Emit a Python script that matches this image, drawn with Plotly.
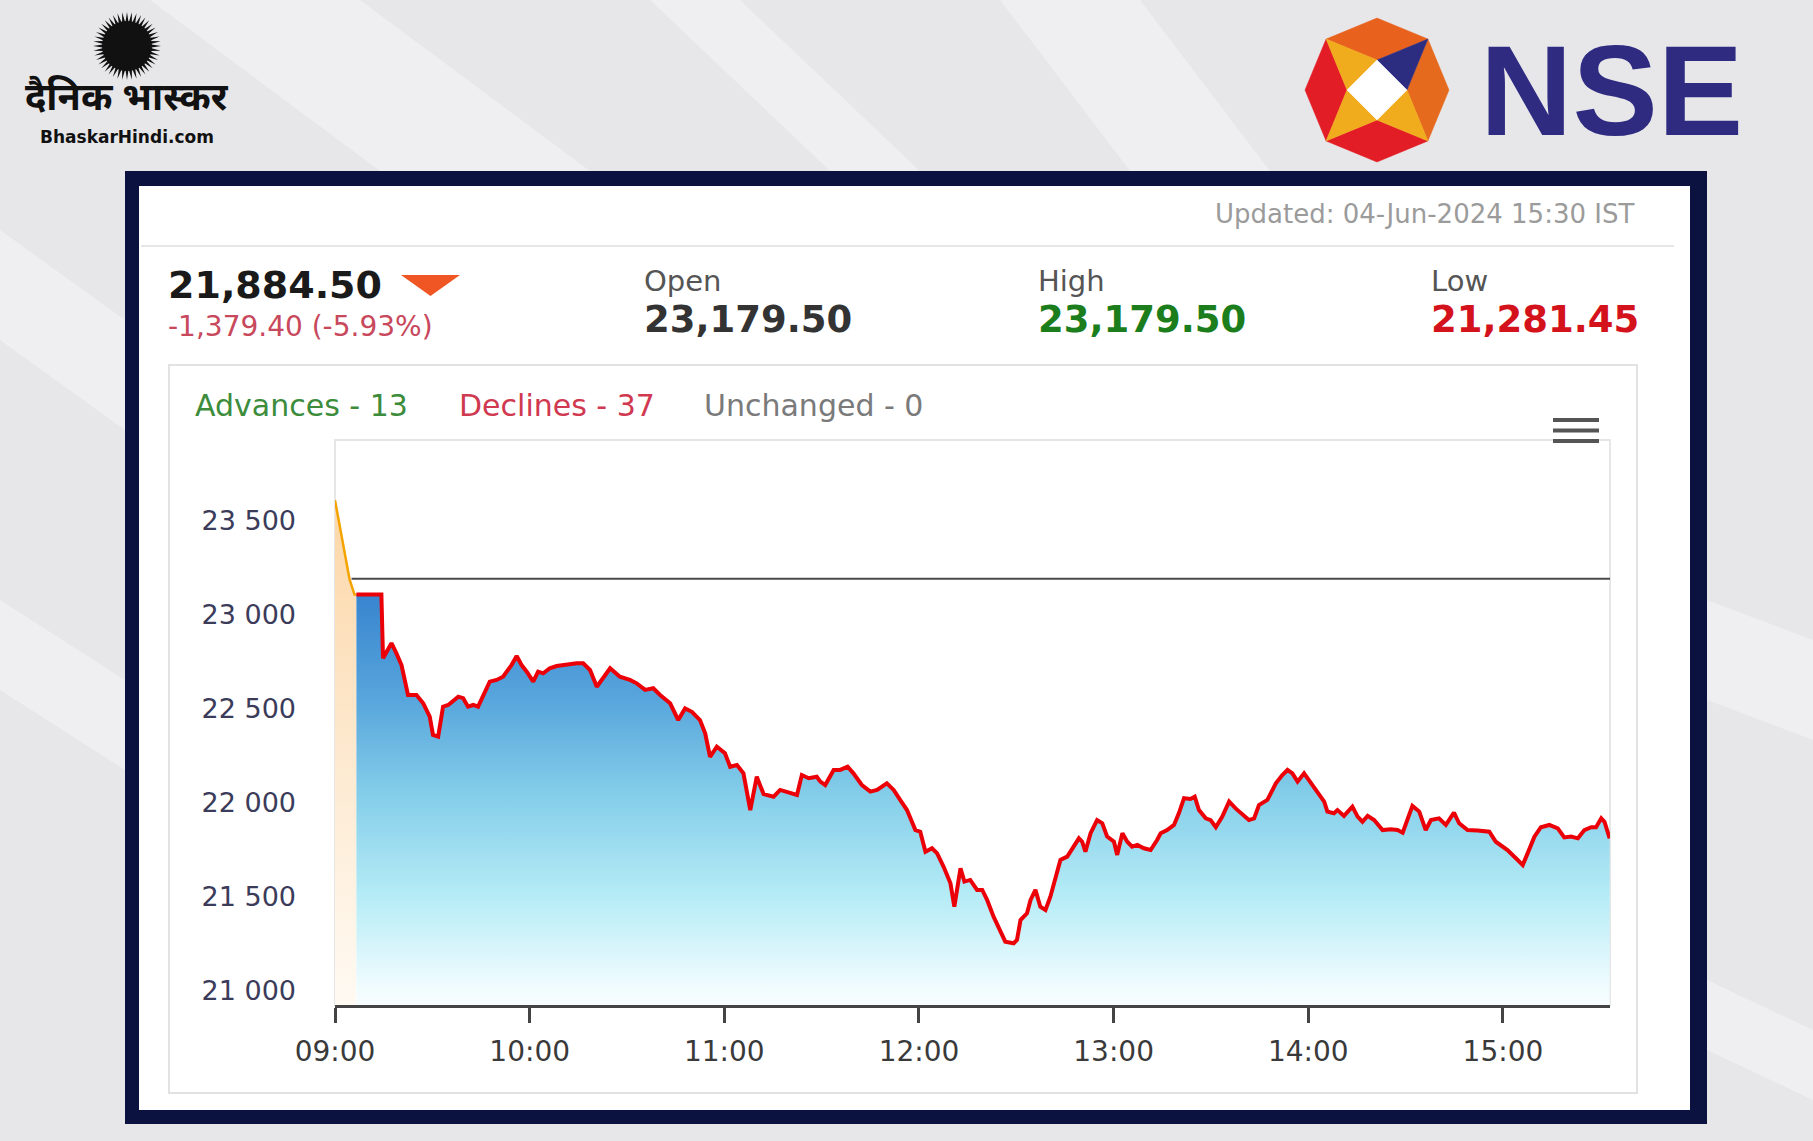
import math
import pandas as pd
import plotly.graph_objects as go

W, H = 1813, 1141

# ---------------- data ----------------
session_start = "2024-06-04 09:00:00"

# pre-open segment (orange): minutes after 09:00, index level
preopen_minutes = [0.0, 4.5, 6.0, 6.6]
preopen_values = [23680, 23260, 23179.5, 23179.5]

# regular session (red line, blue area): minutes after 09:00, index level
trade_minutes = [
    6.6, 14.3, 14.8, 15.9, 17.4, 18.9, 20.5, 22.5, 25.1, 27.2, 29.2, 30.2, 31.8, 33.3, 34.9,
    38.0, 39.5, 41.0, 42.6, 44.1, 45.7, 47.7, 49.8, 51.8, 54.4, 56.0, 57.5, 59.1, 61.1, 62.6,
    64.2, 66.2, 68.3, 70.4, 72.4, 74.5, 76.5, 78.6, 80.7, 82.2, 84.8, 87.8, 90.9, 93.0, 95.6,
    98.1, 100.2, 103.3, 105.8, 107.9, 110.0, 112.5, 114.1, 115.6, 117.7, 120.2, 121.8, 123.9,
    125.9, 128.0, 130.0, 132.1, 135.2, 137.2, 139.3, 141.3, 142.4, 143.9, 146.0, 148.5, 149.6,
    151.1, 153.7, 155.7, 158.0, 159.8, 162.4, 165.0, 167.1, 170.1, 172.2, 174.2, 176.3, 178.9,
    180.4, 182.0, 184.0, 185.6, 187.6, 189.7, 190.9, 192.8, 194.0, 195.8, 197.9, 199.5, 201.0,
    203.0, 205.1, 206.6, 209.2, 210.2, 211.3, 213.3, 214.4, 215.9, 217.4, 219.0, 220.5, 222.1,
    223.6, 225.7, 227.2, 229.3, 230.3, 231.3, 232.9, 234.9, 236.5, 238.0, 240.1, 241.1, 242.7,
    244.2, 245.7, 247.3, 249.3, 251.4, 253.4, 254.5, 256.5, 258.6, 260.1, 261.7, 263.7, 265.0,
    266.3, 268.4, 269.9, 271.5, 273.5, 275.6, 277.6, 279.7, 281.7, 283.3, 284.8, 287.4, 290.0,
    292.0, 293.6, 295.1, 296.7, 298.7, 300.8, 303.3, 304.9, 305.9, 307.9, 309.0, 311.0, 313.6,
    315.2, 316.7, 318.3, 320.3, 322.9, 325.4, 327.5, 329.1, 332.1, 334.2, 336.2, 337.8, 340.3,
    342.4, 344.9, 346.5, 349.1, 352.2, 355.8, 357.8, 359.9, 361.4, 364.0, 366.1, 367.6, 369.7,
    371.7, 374.3, 376.9, 378.9, 381.0, 383.1, 385.1, 387.2, 388.7, 390.3, 391.3, 392.9,
]
trade_values = [
    23179.5, 23179.5, 22841, 22876, 22921, 22868, 22805, 22646, 22646, 22602, 22531, 22434, 22425, 22584, 22593,
    22637, 22629, 22584, 22593, 22584, 22646, 22717, 22726, 22743, 22805, 22853, 22805, 22770, 22717, 22770,
    22761, 22788, 22800, 22805, 22805, 22814, 22814, 22779, 22690, 22726, 22788, 22743, 22726, 22708, 22673,
    22682, 22646, 22602, 22513, 22575, 22557, 22513, 22443, 22318, 22372, 22337, 22265, 22274,
    22230, 22035, 22212, 22120, 22106, 22142, 22133, 22124, 22115, 22221, 22204, 22212, 22186,
    22168, 22248, 22248, 22265, 22230, 22168, 22133, 22142, 22177, 22142, 22089, 22035, 21929,
    21920, 21814, 21832, 21805, 21734, 21646, 21522, 21726, 21655, 21664, 21611, 21611, 21558,
    21469, 21398, 21336, 21328, 21345, 21451, 21487, 21558, 21611, 21522, 21505, 21575, 21681,
    21770, 21788, 21832, 21885, 21867, 21814, 21912, 21982, 21965, 21894, 21867, 21797, 21912,
    21867, 21841, 21850, 21832, 21823, 21876, 21912, 21929, 21956, 22018, 22098, 22094, 22106,
    22035, 21991, 21982, 21944, 22000, 22080, 22044, 22009, 21982, 21991, 22062, 22089, 22177,
    22221, 22248, 22230, 22186, 22230, 22177, 22115, 22080, 22027, 22018, 22035, 22004, 22053,
    22000, 21973, 22004, 21982, 21929, 21933, 21929, 21915, 22057, 22027, 21929, 21982, 21991,
    21956, 22021, 21965, 21929, 21926, 21920, 21867, 21841, 21823, 21779, 21743, 21805, 21894,
    21944, 21956, 21938, 21890, 21894, 21885, 21929, 21944, 21944, 21991, 21973, 21884.5,
]

prev_close = 23263.90
prev_close_minutes = [5.1, 393.0]

x_range_minutes = [0, 393]
y_range = [21000, 24000]
y_ticks = [21000, 21500, 22000, 22500, 23000, 23500]
y_tick_labels = ["21 000", "21 500", "22 000", "22 500", "23 000", "23 500"]
x_tick_minutes = [0, 60, 120, 180, 240, 300, 360]
x_tick_labels = ["09:00", "10:00", "11:00", "12:00", "13:00", "14:00", "15:00"]

last_price = "21,884.50"
change_text = "-1,379.40 (-5.93%)"
open_price = "23,179.50"
high_price = "23,179.50"
low_price = "21,281.45"
updated_text = "Updated: 04-Jun-2024 15:30 IST"
advances, declines, unchanged = 13, 37, 0

# ---------------- helpers ----------------
base = pd.Timestamp(session_start)


def tm(mins):
    return [base + pd.Timedelta(minutes=m) for m in mins]


def fx(px):
    return px / W


def fy(py):
    return 1 - py / H


def poly_path(points):
    return "M " + " L ".join(f"{fx(x):.5f},{fy(y):.5f}" for x, y in points) + " Z"


FONT = "DejaVu Sans"

fig = go.Figure()

# pre-open (orange)
fig.add_trace(go.Scatter(
    x=tm(preopen_minutes), y=preopen_values, mode="lines",
    line=dict(color="#f4a300", width=2.5),
    fill="tozeroy",
    fillgradient=dict(type="vertical", start=21000, stop=23680,
                      colorscale=[[0, "#fffaf3"], [0.5, "#fde9cf"], [1, "#fcd7a8"]]),
    hoverinfo="skip",
))

# regular session (red line over blue gradient)
fig.add_trace(go.Scatter(
    x=tm(trade_minutes), y=trade_values, mode="lines",
    line=dict(color="#ec0008", width=4),
    fill="tozeroy",
    fillgradient=dict(type="vertical", start=21000, stop=23180,
                      colorscale=[[0, "#f7fdff"], [0.05, "#eefbfe"], [0.26, "#b6ecf6"],
                                  [0.5, "#86cfea"], [0.74, "#58a6dc"], [1, "#3884cf"]]),
    hoverinfo="skip",
))

# previous close line
fig.add_trace(go.Scatter(
    x=tm(prev_close_minutes), y=[prev_close, prev_close], mode="lines",
    line=dict(color="#4a4a4a", width=2), hoverinfo="skip",
))

shapes = []
# background streaks
for pts in [
    [(150, 0), (360, 0), (590, 171), (380, 171)],
    [(650, 0), (740, 0), (920, 171), (830, 171)],
    [(0, 230), (0, 340), (125, 430), (125, 320)],
    [(0, 600), (0, 690), (125, 770), (125, 680)],
    [(1707, 600), (1813, 640), (1813, 740), (1707, 700)],
    [(1707, 980), (1813, 1030), (1813, 1100), (1707, 1050)],
    [(1000, 0), (1140, 0), (1270, 171), (1130, 171)],
]:
    shapes.append(dict(type="path", path=poly_path(pts), xref="paper", yref="paper",
                       fillcolor="rgba(255,255,255,0.32)", line=dict(width=0), layer="below"))

# navy frame and white card
shapes.append(dict(type="rect", xref="paper", yref="paper", x0=fx(125), x1=fx(1707), y0=fy(1124), y1=fy(171),
                   fillcolor="#0c1240", line=dict(width=0), layer="below"))
shapes.append(dict(type="rect", xref="paper", yref="paper", x0=fx(139), x1=fx(1690), y0=fy(1110), y1=fy(186),
                   fillcolor="#ffffff", line=dict(width=0), layer="below"))
# header separator
shapes.append(dict(type="line", xref="paper", yref="paper", x0=fx(141), x1=fx(1674), y0=fy(246), y1=fy(246),
                   line=dict(color="#e6e6e6", width=2), layer="below"))
# chart card border
shapes.append(dict(type="rect", xref="paper", yref="paper", x0=fx(169), x1=fx(1637), y0=fy(1093), y1=fy(365),
                   fillcolor="rgba(0,0,0,0)", line=dict(color="#e2e2e2", width=2), layer="below"))
# plot area border
shapes.append(dict(type="rect", xref="paper", yref="paper", x0=fx(335), x1=fx(1610), y0=fy(1005), y1=fy(440),
                   fillcolor="rgba(0,0,0,0)", line=dict(color="#e6e6e6", width=2), layer="below"))
# down triangle
shapes.append(dict(type="path", path=poly_path([(401, 275), (460, 275), (430.5, 296)]), xref="paper", yref="paper",
                   fillcolor="#f05623", line=dict(width=0)))
# hamburger menu
for yy in [420, 430.5, 441]:
    shapes.append(dict(type="rect", xref="paper", yref="paper", x0=fx(1553), x1=fx(1599), y0=fy(yy + 2), y1=fy(yy - 2),
                       fillcolor="#555555", line=dict(width=0)))

# Dainik Bhaskar sun
cx, cy = 127, 46
rays = []
n = 44
for i in range(2 * n):
    r = 34 if i % 2 == 0 else 23
    a = math.pi * i / n
    rays.append((cx + r * math.cos(a), cy + r * math.sin(a)))
shapes.append(dict(type="path", path=poly_path(rays), xref="paper", yref="paper",
                   fillcolor="#111111", line=dict(width=0)))
shapes.append(dict(type="circle", xref="paper", yref="paper", x0=fx(cx - 25), x1=fx(cx + 25), y0=fy(cy + 25), y1=fy(cy - 25),
                   fillcolor="#111111", line=dict(width=0)))

# NSE octagon logo
ox, oy, R, r = 1377, 90, 72, 30
s = R * math.sqrt(0.5)
V = [(ox, oy - R), (ox + s, oy - s), (ox + R, oy), (ox + s, oy + s),
     (ox, oy + R), (ox - s, oy + s), (ox - R, oy), (ox - s, oy - s)]
D0, D2, D4, D6 = (ox, oy - r), (ox + r, oy), (ox, oy + r), (ox - r, oy)
logo_parts = [
    ([V[7], V[0], V[1], D0], "#e8621e"),
    ([V[1], V[2], V[3], D2], "#e66a1e"),
    ([V[3], V[4], V[5], D4], "#e31d25"),
    ([V[5], V[6], V[7], D6], "#e31d25"),
    ([V[7], D0, D6], "#f1ac1d"),
    ([V[1], D2, D0], "#2c2d80"),
    ([V[3], D4, D2], "#f1ac1d"),
    ([V[5], D6, D4], "#f1ac1d"),
    ([D0, D2, D4, D6], "#ffffff"),
]
for pts, col in logo_parts:
    shapes.append(dict(type="path", path=poly_path(pts), xref="paper", yref="paper",
                       fillcolor=col, line=dict(color=col, width=0.5)))


def ann(text, x, y, size, color, anchor="left", weight="normal", family=FONT):
    return dict(text=text, x=fx(x), y=fy(y), xref="paper", yref="paper", xanchor=anchor, yanchor="middle",
                showarrow=False, font=dict(family=family, size=size, color=color, weight=weight))


annotations = [
    ann(updated_text, 1636, 214, 26, "#9b9b9b", anchor="right"),
    ann(last_price, 166, 285, 38, "#1a1a1a", weight="bold"),
    ann(change_text, 166, 326, 28, "#c8485c"),
    ann("Open", 642, 281, 29, "#555555"),
    ann(open_price, 642, 319, 37, "#333333", weight="bold"),
    ann("High", 1036, 281, 29, "#555555"),
    ann(high_price, 1036, 319, 37, "#1b7d1b", weight="bold"),
    ann("Low", 1429, 281, 29, "#555555"),
    ann(low_price, 1429, 319, 37, "#d4121c", weight="bold"),
    ann(f"Advances - {advances}", 193, 405, 30, "#3c8c3c"),
    ann(f"Declines - {declines}", 457, 405, 30, "#d0394f"),
    ann(f"Unchanged - {unchanged}", 702, 405, 30, "#7a7a7a"),
    ann("NSE", 1478, 90, 128, "#2e2b80", weight="bold", family="Liberation Sans"),
    ann("दैनिक भास्कर", 127, 100, 38, "#111111", anchor="center", weight="bold",
        family="Noto Sans Devanagari, Lohit Devanagari, Noto Sans, sans-serif"),
    ann("BhaskarHindi.com", 127, 137, 17, "#111111", anchor="center", weight="bold"),
]

fig.update_layout(
    width=W, height=H, autosize=False,
    margin=dict(l=0, r=0, t=0, b=0, pad=0),
    paper_bgcolor="#e7e7ea", plot_bgcolor="rgba(0,0,0,0)",
    showlegend=False,
    shapes=shapes, annotations=annotations,
    xaxis=dict(
        domain=[fx(335), fx(1610)], type="date", automargin=False,
        range=tm(x_range_minutes),
        tickvals=tm(x_tick_minutes), ticktext=x_tick_labels,
        ticks="outside", ticklen=15, tickwidth=2.5, tickcolor="#444444",
        showline=True, linecolor="#444444", linewidth=2.5,
        showgrid=False, zeroline=False, ticklabelstandoff=5,
        tickfont=dict(family=FONT, size=28, color="#3a3a3a"), fixedrange=True,
    ),
    yaxis=dict(
        domain=[fy(1005), fy(440)], range=y_range, automargin=False,
        tickvals=y_ticks, ticktext=y_tick_labels,
        showgrid=False, zeroline=False, showline=False, ticks="",
        ticklabelshift=-14, ticklabelstandoff=38,
        tickfont=dict(family=FONT, size=27, color="#3b3b5a"), fixedrange=True,
    ),
)

fig.write_html("out.html", config={"displayModeBar": False},
               post_script="document.body.style.margin='0px';")
